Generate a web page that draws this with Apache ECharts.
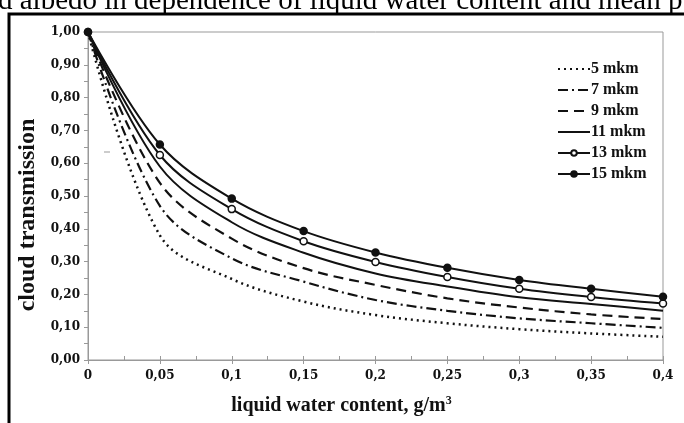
<!DOCTYPE html>
<html lang="en">
<head>
	<meta charset="UTF-8">
	<title>cloud transmission</title>
	<style>
		html, body { margin: 0; padding: 0; background: #fff; }
		#chartBox { width: 684px; height: 423px; }
	</style>
</head>
<body>
<div id="chartBox"></div>

<script src="https://cdn.jsdelivr.net/npm/echarts@6/dist/echarts.min.js"></script>
<script>
    // liquid water content, g/m3
    var lwc = [0, 0.05, 0.1, 0.15, 0.2, 0.25, 0.3, 0.35, 0.4];
    // cloud transmission for each mean droplet radius
    var r5 = [1.00, 0.38, 0.247, 0.178, 0.137, 0.112, 0.094, 0.081, 0.071];
    var r7 = [1.00, 0.47, 0.31, 0.239, 0.183, 0.150, 0.127, 0.112, 0.098];
    var r9 = [1.00, 0.54, 0.37, 0.280, 0.229, 0.188, 0.160, 0.139, 0.125];
    var r11 = [1.00, 0.59, 0.42, 0.327, 0.264, 0.224, 0.191, 0.171, 0.150];
    var r13 = [1.00, 0.625, 0.460, 0.362, 0.299, 0.253, 0.217, 0.192, 0.172];
    var r15 = [1.00, 0.657, 0.492, 0.393, 0.328, 0.281, 0.244, 0.217, 0.193];
    var seriesNames = ['5 mkm', '7 mkm', '9 mkm', '11 mkm', '13 mkm', '15 mkm'];
    var xTickLabels = ['0', '0,05', '0,1', '0,15', '0,2', '0,25', '0,3', '0,35', '0,4'];
    var yTickLabels = ['0,00', '0,10', '0,20', '0,30', '0,40', '0,50', '0,60', '0,70', '0,80', '0,90', '1,00'];

    function pairs(ys) {
        var out = [];
        for (var i = 0; i < lwc.length; i++) out.push([lwc[i], ys[i]]);
        return out;
    }

    var ink = '#111';
    var axisGray = '#999';
    var labelFont = {color: '#111', fontFamily: 'DejaVu Serif', fontWeight: 'bold', fontSize: 12};

    function lineSeries(name, ys, type, width, symbol, fill) {
        return {
            name: name,
            type: 'line',
            data: pairs(ys),
            smooth: 0.35,
            symbol: symbol || 'none',
            symbolSize: 7,
            showSymbol: !!symbol,
            itemStyle: {color: fill || ink, borderColor: ink, borderWidth: 1.5},
            lineStyle: {color: ink, width: width, type: type},
            emphasis: {disabled: true}
        };
    }

    // legend: only 13 and 15 mkm show a marker
    var noMark = {color: 'rgba(0,0,0,0)', borderColor: 'rgba(0,0,0,0)', borderWidth: 0};
    var legendData = seriesNames.map(function (n, i) {
        return i < 4 ? {name: n, itemStyle: noMark} : {name: n};
    });

    var myChart = echarts.init(document.getElementById('chartBox'));
    var option = {
        animation: false,
        backgroundColor: '#fff',
        grid: {left: 88, right: 21, top: 32, bottom: 63, show: true, borderColor: axisGray, borderWidth: 1},
        legend: {
            orient: 'vertical',
            left: 552,
            top: 55,
            itemWidth: 32,
            itemHeight: 7,
            itemGap: 3,
            textStyle: {color: '#111', fontFamily: 'Liberation Serif', fontWeight: 'bold', fontSize: 16,
                lineHeight: 18, padding: [0, 0, 0, -4]},
            data: legendData
        },
        xAxis: [{
            type: 'value',
            min: 0, max: 0.4, interval: 0.05,
            splitLine: {show: false},
            axisLine: {lineStyle: {color: axisGray}},
            axisTick: {length: 4, lineStyle: {color: axisGray}},
            axisLabel: Object.assign({margin: 10, formatter: function (v) { return xTickLabels[Math.round(v / 0.05)]; }}, labelFont),
            name: 'liquid water content, g/m{sup|3}',
            nameLocation: 'middle',
            nameGap: 35,
            nameTextStyle: {color: '#111', fontFamily: 'Liberation Serif', fontWeight: 'bold', fontSize: 20,
                padding: [0, 68, 0, 0],
                rich: {sup: {fontFamily: 'Liberation Serif', fontWeight: 'bold', fontSize: 12, verticalAlign: 'top', padding: [0, 0, 10, 0]}}}
        }, {
            type: 'value',
            position: 'bottom',
            min: 0, max: 0.4, interval: 0.05,
            splitLine: {show: false},
            axisLine: {show: false},
            axisLabel: {show: false},
            axisTick: {inside: true, length: 4, lineStyle: {color: axisGray}},
            minorTick: {show: true, splitNumber: 2, length: 4, lineStyle: {color: axisGray}}
        }],
        yAxis: {
            type: 'value',
            min: 0, max: 1, interval: 0.1,
            splitLine: {show: false},
            axisLine: {show: true, lineStyle: {color: axisGray}},
            axisTick: {show: true, length: 4, lineStyle: {color: axisGray}},
            minorTick: {show: true, splitNumber: 2, length: 4, lineStyle: {color: axisGray}},
            axisLabel: Object.assign({margin: 8, formatter: function (v) { return yTickLabels[Math.round(v * 10)]; }}, labelFont),
            name: 'cloud transmission',
            nameLocation: 'middle',
            nameGap: 39,
            nameTextStyle: {color: '#111', fontFamily: 'Liberation Serif', fontWeight: 'bold', fontSize: 24,
                padding: [0, 38, 0, 0]}
        },
        graphic: [
            {type: 'text', left: -2, top: -13, silent: true,
                style: {text: 'd albedo in dependence of liquid water content and mean p', fill: '#000',
                    font: '29px "Liberation Serif"'}},
            {type: 'rect', silent: true, shape: {x: 9, y: 14, width: 700, height: 420},
                style: {fill: 'none', stroke: '#000', lineWidth: 3}},
            {type: 'line', silent: true, shape: {x1: 104, y1: 152, x2: 110, y2: 152},
                style: {stroke: axisGray, lineWidth: 1}}
        ],
        series: [
            lineSeries(seriesNames[0], r5, [2, 4], 2.5),
            lineSeries(seriesNames[1], r7, [10, 4, 2, 4], 2.2),
            lineSeries(seriesNames[2], r9, [10, 6], 2.2),
            lineSeries(seriesNames[3], r11, 'solid', 2),
            lineSeries(seriesNames[4], r13, 'solid', 2, 'circle', '#fff'),
            lineSeries(seriesNames[5], r15, 'solid', 2, 'circle', ink)
        ]
    };
    myChart.setOption(option);
</script>
</body>
</html>
